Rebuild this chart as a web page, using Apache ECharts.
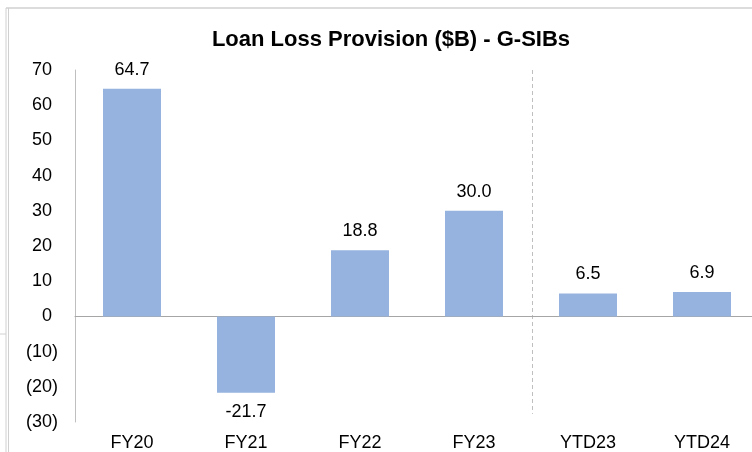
<!DOCTYPE html>
<html>
<head>
	<meta charset="utf-8">
	<title>Loan Loss Provision</title>
	<script src="https://cdn.jsdelivr.net/npm/echarts@6/dist/echarts.min.js"></script>
	<style>
		html, body { margin: 0; height: 100%; background: #fff; overflow: hidden; }
		#main { width: 760px; height: 452px; }
	</style>
</head>
<body>
	<div id="main"></div>
	<script type="text/javascript">
		// data
		var categories = ['FY20', 'FY21', 'FY22', 'FY23', 'YTD23', 'YTD24'];
		var provision = [64.7, -21.7, 18.8, 30.0, 6.5, 6.9];
		var yTicks = [-30, -20, -10, 0, 10, 20, 30, 40, 50, 60, 70];

		var font = 'Arial, "Liberation Sans", sans-serif';

		// excel style number format: 10 / (10)
		function fmtTick(v) {
			if (v < 0) return '(' + Math.abs(v) + ')';
			return '{p|' + v + '}';
		}

		var barData = provision.map(function (v) {
			return {
				value: v,
				label: { position: v < 0 ? 'bottom' : 'top' }
			};
		});

		var chart = echarts.init(document.getElementById('main'));
		var option = {
			animation: false,
			textStyle: { fontFamily: font },
			title: {
				text: 'Loan Loss Provision ($B) - G-SIBs',
				left: 386,
				textAlign: 'center',
				top: 24,
				textStyle: { fontSize: 22, fontWeight: 'bold', color: '#000', fontFamily: font }
			},
			grid: { left: 75, top: 70, width: 684, height: 353 },
			xAxis: [{
				type: 'category',
				data: categories,
				position: 'bottom',
				axisLine: { show: false, onZero: false },
				axisTick: { show: false },
				axisLabel: { color: '#000', fontSize: 18, margin: 12, fontFamily: font }
			}, {
				// zero line
				type: 'category',
				data: categories,
				axisLine: { show: true, onZero: true, lineStyle: { color: '#A6A6A6', width: 1 } },
				axisTick: { show: false },
				axisLabel: { show: false }
			}],
			yAxis: {
				type: 'value',
				min: yTicks[0],
				max: yTicks[yTicks.length - 1],
				interval: 10,
				axisLine: { show: true, lineStyle: { color: '#BFBFBF' } },
				axisTick: { show: false },
				splitLine: { show: false },
				axisLabel: {
					color: '#000',
					fontSize: 18,
					margin: 17,
					fontFamily: font,
					formatter: fmtTick,
					rich: { p: { fontSize: 18, color: '#000', fontFamily: font, padding: [0, 6, 0, 0] } }
				}
			},
			series: [{
				type: 'bar',
				data: barData,
				barWidth: 58,
				itemStyle: { color: '#95B3DE' },
				label: {
					show: true,
					distance: 10,
					color: '#000',
					fontSize: 18,
					fontFamily: font,
					formatter: function (p) { return p.value.toFixed(1); }
				}
			}],
			graphic: [
				{ type: 'line', shape: { x1: 6, y1: 8, x2: 760, y2: 8 }, style: { stroke: '#D0D0D0', lineWidth: 1.5 } },
				{ type: 'line', shape: { x1: 6, y1: 8, x2: 6, y2: 452 }, style: { stroke: '#D0D0D0', lineWidth: 1 } },
				{ type: 'line', shape: { x1: 8.5, y1: 8, x2: 8.5, y2: 452 }, style: { stroke: '#D0D0D0', lineWidth: 1 } },
				{ type: 'line', shape: { x1: 0, y1: 334, x2: 6, y2: 334 }, style: { stroke: '#D0D0D0', lineWidth: 1 } }
			]
		};
		chart.setOption(option);

		// dashed divider between full years and YTD, placed from the axes
		var xa = chart.convertToPixel({ xAxisIndex: 0 }, 'FY23');
		var xb = chart.convertToPixel({ xAxisIndex: 0 }, 'YTD23');
		var xd = Math.round((xa + xb) / 2) + 1.5;
		var yTop = chart.convertToPixel({ yAxisIndex: 0 }, 70);
		var yBot = chart.convertToPixel({ yAxisIndex: 0 }, -27.7);
		option.graphic.push({
			type: 'line',
			shape: { x1: xd, y1: yTop, x2: xd, y2: yBot },
			style: { stroke: '#BFBFBF', lineWidth: 1, lineDash: [4, 3] }
		});
		chart.setOption({ graphic: option.graphic });
	</script>
</body>
</html>
